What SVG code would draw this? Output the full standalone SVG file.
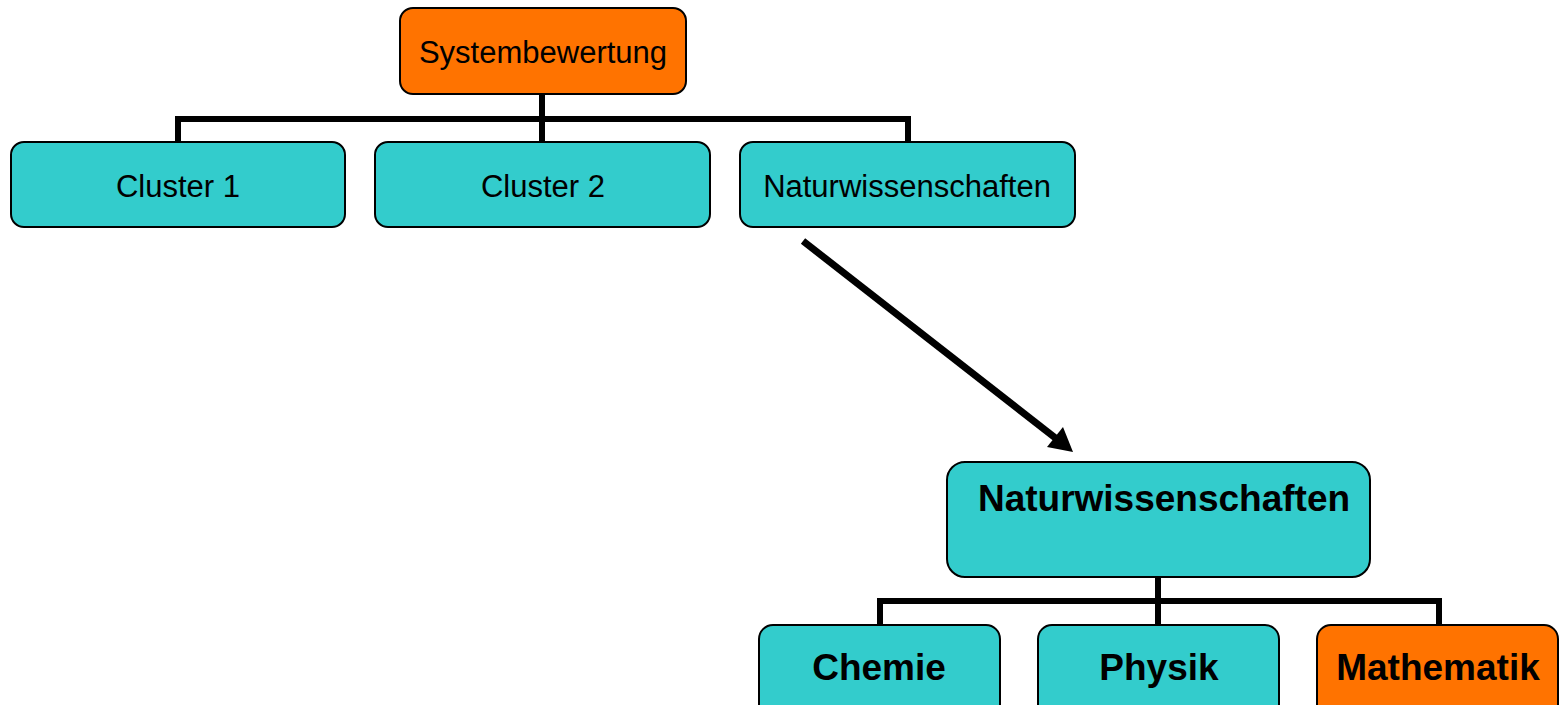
<svg xmlns="http://www.w3.org/2000/svg" width="1560" height="705" viewBox="0 0 1560 705">
<style>
.box{stroke:#000;stroke-width:2}
.teal{fill:#33CCCC}
.orange{fill:#FF7300}
.t{font-family:"Liberation Sans",Arial,sans-serif;font-size:31px;fill:#000;text-anchor:middle}
.b{font-family:"Liberation Sans",Arial,sans-serif;font-size:37px;font-weight:bold;fill:#000;text-anchor:middle}
.c{fill:none;stroke:#000;stroke-width:6}
</style>
<rect width="1560" height="705" fill="#fff"/>
<g id="connectors">
<path class="c" d="M542,94 V142 M178,142 V119 H908 V142"/>
<path class="c" d="M1158,577 V625 M880,625 V601 H1439 V625"/>
<line x1="803" y1="241" x2="1058" y2="440" stroke="#000" stroke-width="7"/>
<polygon points="1073,452 1047,447 1063,427" fill="#000"/>
</g>
<g id="systembewertung"><rect class="box orange" x="400" y="8" width="286" height="86" rx="13"/><text class="t" x="543" y="63">Systembewertung</text></g>
<g id="cluster1"><rect class="box teal" x="11" y="142" width="334" height="85" rx="13"/><text class="t" x="178" y="197">Cluster 1</text></g>
<g id="cluster2"><rect class="box teal" x="375" y="142" width="335" height="85" rx="13"/><text class="t" x="543" y="197">Cluster 2</text></g>
<g id="naturwissenschaften1"><rect class="box teal" x="740" y="142" width="335" height="85" rx="13"/><text class="t" x="907" y="197">Naturwissenschaften</text></g>
<g id="naturwissenschaften2"><rect class="box teal" x="947" y="462" width="423" height="115" rx="18"/><text class="b" x="1164" y="511">Naturwissenschaften</text></g>
<g id="chemie"><rect class="box teal" x="759" y="625" width="241" height="95" rx="14"/><text class="b" x="879" y="680">Chemie</text></g>
<g id="physik"><rect class="box teal" x="1038" y="625" width="241" height="95" rx="14"/><text class="b" x="1159" y="680">Physik</text></g>
<g id="mathematik"><rect class="box orange" x="1317" y="625" width="241" height="95" rx="14"/><text class="b" x="1438" y="680">Mathematik</text></g>
</svg>
